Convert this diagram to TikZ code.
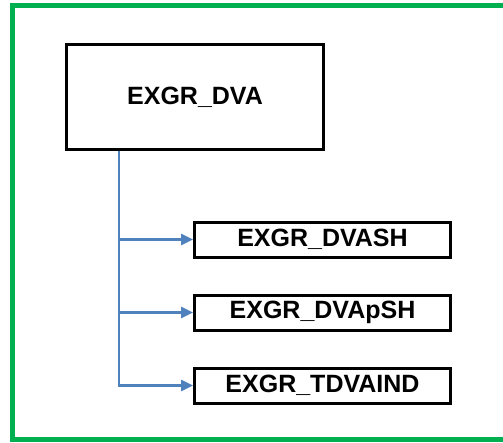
\documentclass[tikz,border=0pt]{standalone}
\usepackage{fontspec}
\setmainfont{Liberation Sans}
\usetikzlibrary{arrows.meta,calc}
\definecolor{framegreen}{RGB}{0,176,80}
\definecolor{linkblue}{RGB}{79,129,189}
\begin{document}
\begin{tikzpicture}[x=1pt,y=-1pt,
  box/.style={draw=black,line width=3pt,fill=white,inner sep=0pt,
    font=\fontsize{25}{30}\selectfont\bfseries},
  mainbox/.style={box,minimum width=257pt,minimum height=105pt},
  childbox/.style={box,minimum width=256pt,minimum height=35pt},
  conn/.style={draw=linkblue,line width=2.7pt,
    -{Triangle[length=12pt,width=11pt]}}]
\useasboundingbox (0,0) rectangle (503,442);
\draw[framegreen,line width=5pt] (12.5,5.5) rectangle (520,439.5);
\node[mainbox] (main) at (195,97) {EXGR\_DVA};
\node[childbox] (c1) at (322.5,239.5) {EXGR\_DVASH};
\node[childbox] (c2) at (322.5,312.5) {EXGR\_DVApSH};
\node[childbox] (c3) at (322.5,385.5) {EXGR\_TDVAIND};
\coordinate (trunk) at ($(main.south west)+(54,0)$);
\draw[conn] (trunk) |- (c1.west);
\draw[conn] (trunk) |- (c2.west);
\draw[conn] (trunk) |- (c3.west);
\end{tikzpicture}
\end{document}
